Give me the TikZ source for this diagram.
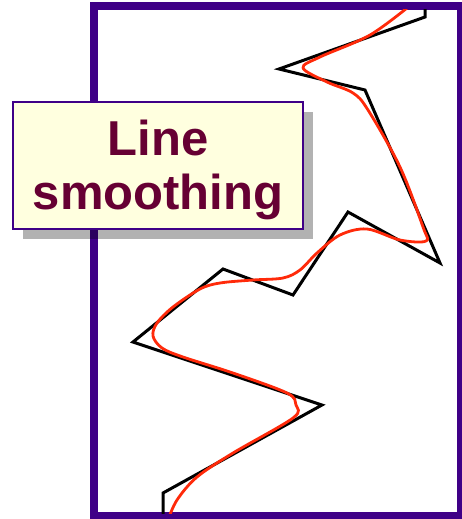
\documentclass[tikz,border=0pt]{standalone}
\usepackage{fontspec}
\setmainfont{Liberation Sans}
\usetikzlibrary{positioning,shadows}
\definecolor{framepurple}{HTML}{3F0087}
\definecolor{notefill}{HTML}{FFFFDF}
\definecolor{notetext}{HTML}{660033}
\definecolor{smoothred}{HTML}{FF2A0A}
\tikzset{
  frame/.style={draw=framepurple, line width=8pt},
  rawline/.style={draw=black, line width=3pt, miter limit=6},
  smoothline/.style={draw=smoothred, line width=2.8pt, line join=round},
  notebox/.style={draw=framepurple, line width=1.8pt, fill=notefill, minimum width=290pt, minimum height=127pt, inner sep=0pt,
    drop shadow={shadow xshift=10pt, shadow yshift=-10pt, fill=black, opacity=0.3}},
  notetxt/.style={font=\fontsize{49}{54}\selectfont\bfseries, text=notetext, align=center, inner sep=0pt}
}
\begin{document}
\begin{tikzpicture}[x=1pt, y=-1pt]
\useasboundingbox (0,0) rectangle (462,519);
% frame of the drawing
\draw[frame] (94,6) rectangle (461,516);
\begin{scope}
  \clip (98,10) rectangle (457,513);
  % original digitised line
  \draw[rawline] (425,4) -- (425,17) -- (279,69) -- (365,90) -- (440,263) -- (348,212)
    -- (293,295) -- (223,269) -- (133,342) -- (322,405) -- (163,493) -- (163,520);
  % smoothed line
  \draw[smoothline] plot[smooth, tension=0.55] coordinates {(412,4) (370,35) (320,57) (303,68)
    (327,82) (353,93) (368,110) (400,167) (423,227) (426,241) (400,240) (367,229) (340,235)
    (317,253) (300,270) (283,278) (253,280) (220,283) (200,289) (173,307) (157,323) (153,336)
    (162,348) (183,357) (233,373) (287,393) (296,405) (293,418) (233,453) (197,477) (177,500) (168,520)};
\end{scope}
\node[notebox] (note) at (158,165.5) {};
\node[notetxt] (notetitle) at ([yshift=-4pt]note.center) {Line\\smoothing};
\end{tikzpicture}
\end{document}
